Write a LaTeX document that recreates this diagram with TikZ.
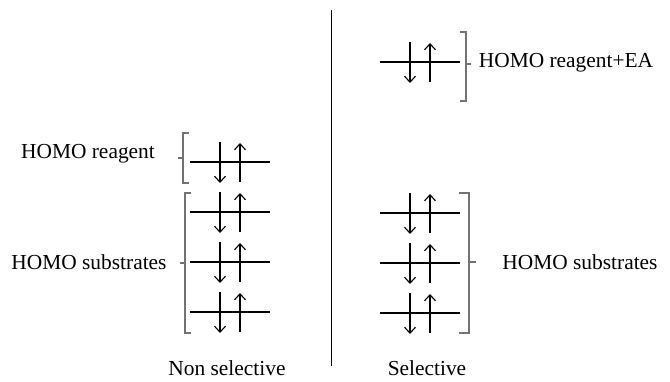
\documentclass[tikz,border=0pt]{standalone}
\usepackage{fontspec}
\setmainfont{Liberation Serif}
\usetikzlibrary{arrows.meta}
\begin{document}
\begin{tikzpicture}[x=1pt,y=-1pt,
  level/.style={line width=2.3pt},
  spin/.style={line width=1.1pt,-{Straight Barb[length=6pt,width=11pt,line width=1.1pt]}},
  bracket/.style={draw=black!55,line width=1.1pt},
  lbl/.style={font=\fontsize{21.4}{25}\selectfont,inner sep=0pt,anchor=base},
  orbital/.pic={
    \draw[level] (-40,0) -- (40,0);
    \draw[spin] (-10,-20) -- (-10,21);
    \draw[spin] (10,20) -- (10,-19);
  }]
\useasboundingbox (0,0) rectangle (670,382);

% dividing line
\draw[line width=1pt] (331,10) -- (331,366);

% non-selective column
\pic at (230,162) {orbital};
\pic at (230,212) {orbital};
\pic at (230,262) {orbital};
\pic at (230,312) {orbital};
\draw[bracket] (189,133) -- (183,133) -- (183,183) -- (189,183)
               (183,158) -- (178,158);
\draw[bracket] (191,193) -- (185,193) -- (185,333) -- (191,333)
               (185,263) -- (180,263);
\node[lbl] (lreag) at (88,159) {HOMO reagent};
\node[lbl] (lsub) at (89,270) {HOMO substrates};
\node[lbl] (nonsel) at (227,376) {Non selective};

% selective column
\pic at (420,62) {orbital};
\pic at (420,213) {orbital};
\pic at (420,263) {orbital};
\pic at (420,313) {orbital};
\draw[bracket] (460,32) -- (466,32) -- (466,101) -- (460,101)
               (466,64) -- (471,64);
\draw[bracket] (459,193) -- (469,193) -- (469,333) -- (459,333)
               (469,262) -- (476,262);
\node[lbl] (rreag) at (566,68) {HOMO reagent+EA};
\node[lbl] (rsub) at (580,270) {HOMO substrates};
\node[lbl] (sel) at (427,376) {Selective};
\end{tikzpicture}
\end{document}
